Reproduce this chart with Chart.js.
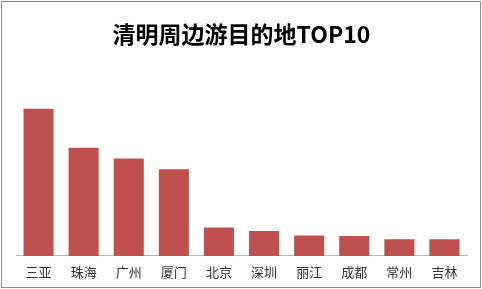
<!DOCTYPE html>
<html lang="zh">
<head>
  <meta charset="UTF-8" />
  <title>清明周边游目的地TOP10</title>
  <script src="https://cdn.jsdelivr.net/npm/chart.js"></script>
  <style>
    html, body { margin: 0; padding: 0; background: #fff; }
    .wrap {
      position: relative;
      width: 482px;
      height: 289px;
      outline: 1px solid #8c8c8c;
      outline-offset: -2px;
    }
  </style>
</head>
<body>
  <div class="wrap"><canvas id="chart"></canvas></div>
  <script>
    // destinations and their relative heat (no axis shown)
    const cities = ['三亚', '珠海', '广州', '厦门', '北京', '深圳', '丽江', '成都', '常州', '吉林'];
    const heat = [145, 106.5, 96, 85.5, 28, 24.5, 20, 19.5, 16.5, 16.5];
    const titleText = '清明周边游目的地TOP10';

    const ctx = document.getElementById('chart').getContext('2d');
    new Chart(ctx, {
      type: 'bar',
      data: {
        labels: cities,
        datasets: [{
          data: heat,
          backgroundColor: '#c0504d',
          borderWidth: 0,
          categoryPercentage: 1,
          barPercentage: 0.667
        }]
      },
      options: {
        responsive: true,
        maintainAspectRatio: false,
        animation: false,
        devicePixelRatio: 1,
        layout: { padding: { left: 16, right: 15, top: 0, bottom: 1.5 } },
        plugins: {
          legend: { display: false },
          tooltip: { enabled: false },
          title: {
            display: true,
            text: titleText,
            color: '#000',
            font: { family: '"Noto Sans CJK SC", sans-serif', size: 23, weight: 'bold' },
            padding: { top: 20, bottom: 46 }
          }
        },
        scales: {
          x: {
            grid: { display: false, drawTicks: false },
            border: { display: true, color: '#aebdd2', width: 1 },
            ticks: {
              color: '#333',
              padding: 8,
              font: { family: '"Noto Sans CJK SC", sans-serif', size: 13 }
            }
          },
          y: {
            display: false,
            min: 0,
            max: 160
          }
        }
      }
    });
  </script>
</body>
</html>
